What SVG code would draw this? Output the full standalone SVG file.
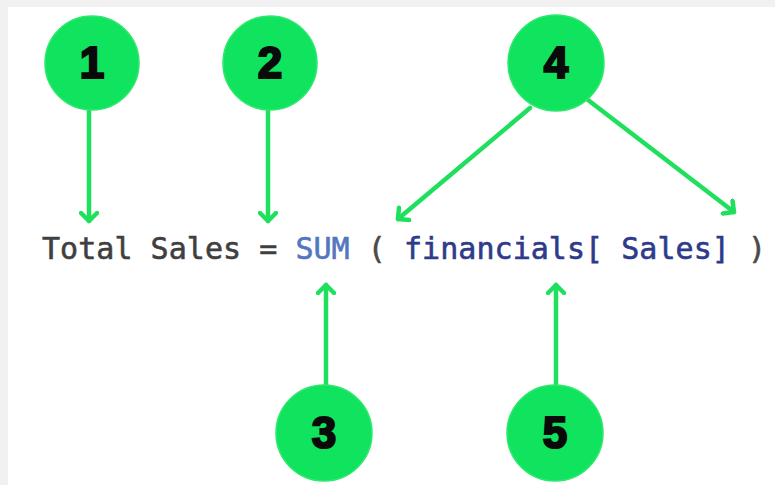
<svg xmlns="http://www.w3.org/2000/svg" width="775" height="485" viewBox="0 0 775 485">
<defs>
<style>
.c{fill:#10e35e;stroke:#2ee86d;stroke-width:1.5}
.n{font-family:"Liberation Sans",Arial,sans-serif;font-weight:bold;font-size:44px;fill:#0a0a0a;stroke:#0a0a0a;stroke-width:2.2;text-anchor:middle}
.ln{stroke:#1fe05d;stroke-width:4.5;fill:none;stroke-linecap:round}
.code{font-family:"DejaVu Sans Mono","Liberation Mono",monospace;font-size:30px;stroke-width:0.6}
</style>
<marker id="ah" viewBox="0 0 20 20" refX="10" refY="10" markerWidth="20" markerHeight="20" markerUnits="userSpaceOnUse" orient="auto">
<path d="M2,2 L10,10 L2,18" fill="none" stroke="#1fe05d" stroke-width="4.5" stroke-linecap="round" stroke-linejoin="round"/>
</marker>
</defs>
<rect x="0" y="0" width="775" height="485" fill="#f1f1f1"/>
<rect x="8" y="7" width="767" height="478" fill="#ffffff"/>
<g id="connectors">
<line class="ln" x1="89" y1="110" x2="89" y2="221" marker-end="url(#ah)"/>
<line class="ln" x1="268" y1="110" x2="268" y2="221" marker-end="url(#ah)"/>
<line class="ln" x1="326" y1="386" x2="326" y2="285" marker-end="url(#ah)"/>
<line class="ln" x1="556" y1="386" x2="556" y2="285" marker-end="url(#ah)"/>
<line class="ln" x1="530" y1="108" x2="398" y2="219" marker-end="url(#ah)"/>
<line class="ln" x1="588" y1="100" x2="734" y2="212" marker-end="url(#ah)"/>
</g>
<g id="node1"><circle class="c" cx="92" cy="63" r="47"/><text class="n" x="92" y="78">1</text></g>
<g id="node2"><circle class="c" cx="270" cy="63" r="47"/><text class="n" x="270" y="78">2</text></g>
<g id="node4"><circle class="c" cx="556" cy="63" r="48"/><text class="n" x="556" y="78">4</text></g>
<g id="node3"><circle class="c" cx="324" cy="433" r="48"/><text class="n" x="324" y="448">3</text></g>
<g id="node5"><circle class="c" cx="555" cy="433" r="48"/><text class="n" x="555" y="448">5</text></g>
<g id="formula">
<text class="code" x="42" y="259" textLength="724" lengthAdjust="spacing"><tspan fill="#3f3f3f" stroke="#3f3f3f">Total Sales = </tspan><tspan fill="#5476c0" stroke="#5476c0">SUM</tspan><tspan fill="#4a4a4a" stroke="#4a4a4a"> ( </tspan><tspan fill="#2e3a8a" stroke="#2e3a8a">financials[ Sales]</tspan><tspan fill="#4a4a4a" stroke="#4a4a4a"> )</tspan></text>
</g>
</svg>
